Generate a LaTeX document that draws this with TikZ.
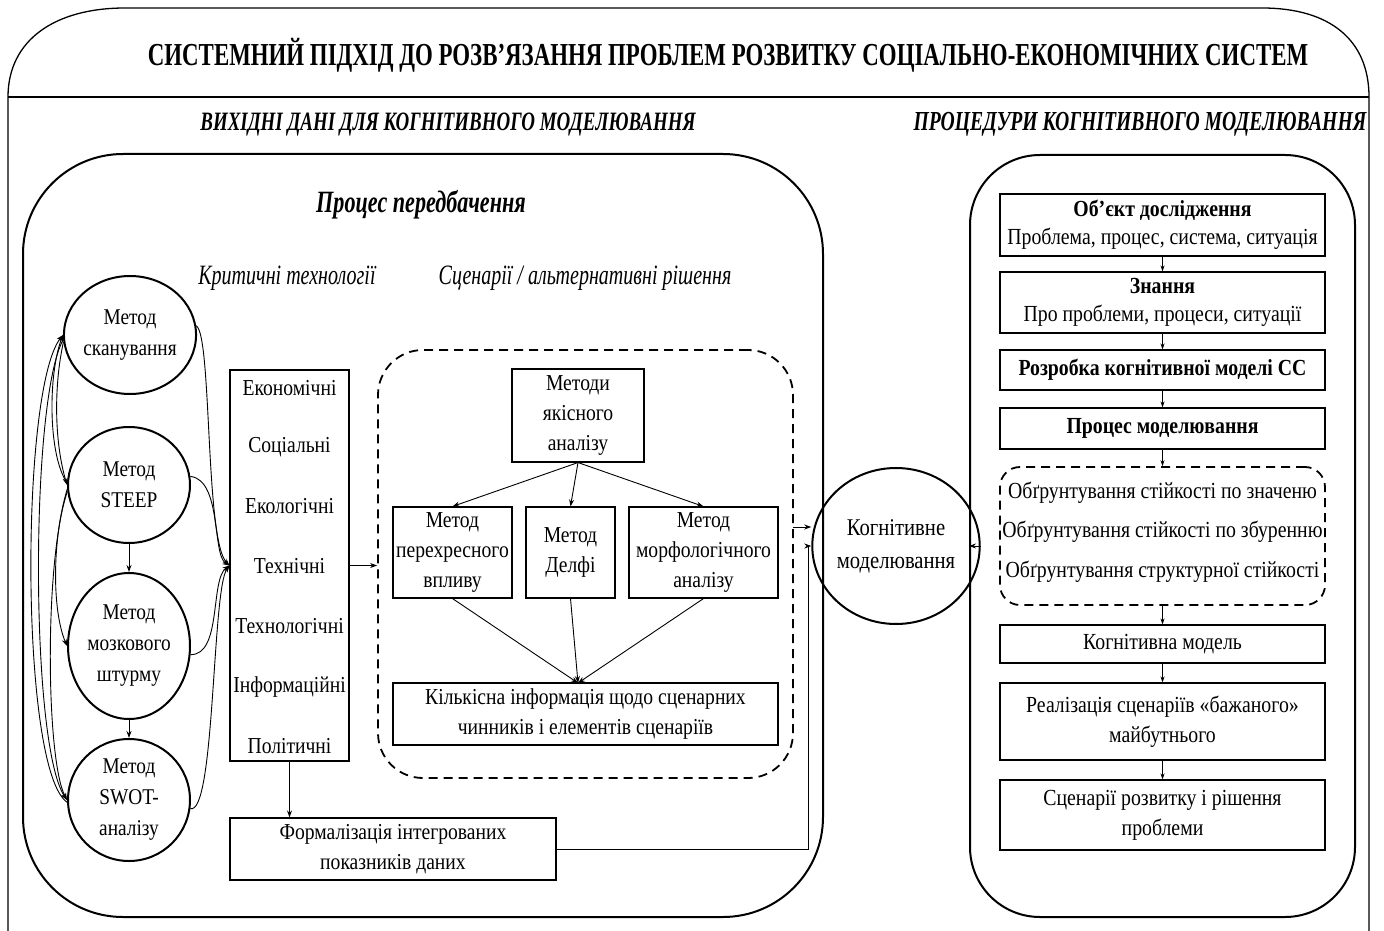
\documentclass[tikz,border=0pt]{standalone}
\usepackage{fontspec}
\setmainfont{Liberation Serif}[FakeStretch=0.86]
\newfontfamily\titlef{Liberation Serif}[FakeStretch=0.715]
\usetikzlibrary{arrows.meta,shapes.geometric}
\newcommand\fsL{\fontsize{22.8pt}{30pt}\selectfont}
\newcommand\fsC{\fontsize{22.5pt}{31pt}\selectfont}
\newcommand\fsR{\fontsize{23pt}{28pt}\selectfont}
\begin{document}
\begin{tikzpicture}[x=1pt,y=-1pt,
  box/.style={draw, line width=1.1pt, inner sep=0pt, align=center, font=\fsL},
  rbx/.style={draw, line width=1.1pt, inner sep=0pt, align=center, font=\fsR, minimum width=325pt},
  circ/.style={draw, ellipse, line width=2pt, inner sep=0pt, align=center, font=\fsC},
  arr/.style={-{Stealth[length=7pt,width=5pt]}, line width=0.9pt},
  sarr/.style={-{Stealth[length=6pt,width=4pt]}, line width=0.8pt},
  lbl/.style={inner sep=0pt, font=\fsL},
  rlbl/.style={inner sep=0pt, font=\fsR},
  panel/.style={draw, line width=2pt, inner sep=0pt},
  head/.style={inner sep=0pt, anchor=base, font={\titlef\bfseries\itshape\fontsize{26.5pt}{30pt}\selectfont}},
  ihead/.style={inner sep=0pt, font={\titlef\itshape\fontsize{28pt}{32pt}\selectfont}},
]
\useasboundingbox (0,0) rectangle (1384,931);
% outer frame
\draw[line width=1.3pt] (8,931) -- (8,97) .. controls (8,40) and (55,8) .. (125,8) -- (1262,8) .. controls (1330,8) and (1369,40) .. (1369,97) -- (1369,931);
\draw[line width=1.1pt] (8,97) -- (1369,97);
\node[inner sep=0pt, font={\titlef\bfseries\fontsize{32pt}{36pt}\selectfont}] (title) at (728,55) {СИСТЕМНИЙ ПІДХІД ДО РОЗВ’ЯЗАННЯ ПРОБЛЕМ РОЗВИТКУ СОЦІАЛЬНО-ЕКОНОМІЧНИХ СИСТЕМ};
\node[head] (sub1) at (448,131) {ВИХІДНІ ДАНІ ДЛЯ КОГНІТИВНОГО МОДЕЛЮВАННЯ};
\node[head, font={\titlef\bfseries\itshape\fontsize{27.5pt}{30pt}\selectfont}] (sub2) at (1140,131) {ПРОЦЕДУРИ КОГНІТИВНОГО МОДЕЛЮВАННЯ};

% panels
\node[panel, rounded corners=100pt, minimum width=800pt, minimum height=763pt] (lbox) at (423,535.5) {};
\node[panel, rounded corners=70pt, minimum width=385pt, minimum height=762pt] (rbox) at (1162.5,536) {};

\node[inner sep=0pt, font={\titlef\bfseries\itshape\fontsize{31pt}{34pt}\selectfont}] (proc) at (421,205) {Процес передбачення};
\node[ihead] (crit) at (287,278) {Критичні технології};
\node[ihead] (scn) at (585,278) {Сценарії / альтернативні рішення};

% circles
\node[circ, minimum width=122pt, minimum height=118pt] (c1) at (130,335) {Метод\\сканування};
\node[circ, minimum width=122pt, minimum height=116pt] (c2) at (129,485) {Метод\\STEEP};
\node[circ, minimum width=122pt, minimum height=146pt] (c3) at (129,646) {Метод\\мозкового\\штурму};
\node[circ, minimum width=122pt, minimum height=122pt] (c4) at (129,800) {Метод\\SWOT-\\аналізу};
\draw[arr] (c2) -- (c3);
\draw[arr] (c3) -- (c4);

% left bundle
\draw[arr] (c4.182) .. controls (20,770) and (20,390) .. (c1.west);
\draw[arr] (c1.184) .. controls (30,400) and (30,745) .. (c4.west);
\draw[arr] (c2.178) .. controls (48,455) and (48,375) .. (c1.west);
\draw[arr] (c1.186) .. controls (54,385) and (54,440) .. (c2.west);
\draw[arr] (c2.184) .. controls (52,540) and (52,610) .. (c3.west);
\draw[arr] (c2.186) .. controls (44,560) and (46,760) .. (c4.west);

% critical technologies box
\node[box, minimum width=119pt, minimum height=391pt] (tech) at (289.5,565.5) {};
\node[lbl] (t1) at (289.5,388) {Економічні};
\node[lbl] (t2) at (289.5,447) {Соціальні};
\node[lbl] (t3) at (289.5,506) {Екологічні};
\node[lbl] (t4) at (289.5,566) {Технічні};
\node[lbl] (t5) at (289.5,626) {Технологічні};
\node[lbl] (t6) at (289.5,687) {Інформаційні};
\node[lbl] (t7) at (289.5,746) {Політичні};

% right curves into tech box
\draw[arr] (c1.8) .. controls (212,335) and (205,540) .. (tech.west);
\draw[arr] (c2.8) .. controls (222,480) and (212,555) .. (tech.west);
\draw[arr] (c3.352) .. controls (222,655) and (210,580) .. (tech.west);
\draw[arr] (c4.352) .. controls (215,815) and (212,590) .. (tech.west);

% scenario dashed box
\node[draw, dashed, dash pattern=on 9pt off 6pt, line width=1.8pt, rounded corners=45pt, minimum width=415pt, minimum height=428pt, inner sep=0pt] (scen) at (585.5,564) {};
\draw[arr] (tech.east) -- (tech.east -| scen.west);

\node[box, minimum width=132pt, minimum height=93pt] (m0) at (578,415.5) {Методи\\якісного\\аналізу};
\node[box, minimum width=119pt, minimum height=91pt] (m1) at (452.5,552.5) {Метод\\перехресного\\впливу};
\node[box, minimum width=89pt, minimum height=91pt] (m2) at (570.5,552.5) {Метод\\Делфі};
\node[box, minimum width=149pt, minimum height=91pt] (m3) at (703.5,552.5) {Метод\\морфологічного\\аналізу};
\node[box, minimum width=385pt, minimum height=62pt] (kil) at (585.5,714) {Кількісна інформація щодо сценарних\\чинників і елементів сценаріїв};
\coordinate (kt) at (578,683);
\draw[arr] (m0.south) -- (m1.north);
\draw[arr] (m0.south) -- (m2.north);
\draw[arr] (m0.south) -- (m3.north);
\draw[arr] (m1.south) -- (kt);
\draw[arr] (m2.south) -- (kt);
\draw[arr] (m3.south) -- (kt);

% formalisation
\node[box, minimum width=326pt, minimum height=62pt] (form) at (393,849) {Формалізація інтегрованих\\показників даних};
\draw[arr] (tech.south) -- (tech.south |- form.north);

% cognitive modelling
\node[circ, minimum width=118pt, minimum height=156pt, font={\fontsize{24pt}{33pt}\selectfont}] (cog) at (896,546) {Когнітивне\\моделювання};
\coordinate (a1) at (793,527);
\draw[arr] (a1) -- (a1 -| cog.west);
\coordinate (k) at (808,546);
\draw[arr] (form.east) -- (form.east -| k) -- (k) -- (cog.west);
\draw[arr] (cog.east) -- (cog.east -| rbox.west);

% right column
\node[rbx, minimum height=62pt] (rA) at (1162.5,225) {\textbf{Об’єкт дослідження}\\Проблема, процес, система, ситуація};
\node[rbx, minimum height=61pt] (rB) at (1162.5,302.5) {\textbf{Знання}\\Про проблеми, процеси, ситуації};
\node[rbx, minimum height=40pt] (rC) at (1162.5,370) {\textbf{Розробка когнітивної моделі СС}};
\node[rbx, minimum height=41pt] (rD) at (1162.5,428.5) {\textbf{Процес моделювання}};
\node[draw, dashed, dash pattern=on 9pt off 6pt, line width=1.8pt, rounded corners=20pt, minimum width=325pt, minimum height=138pt, inner sep=0pt] (rS) at (1162.5,536) {};
\node[rlbl] (s1) at (1162.5,493) {Обґрунтування стійкості по значеню};
\node[rlbl] (s2) at (1162.5,532) {Обґрунтування стійкості по збуренню};
\node[rlbl] (s3) at (1162.5,572) {Обґрунтування структурної стійкості};
\node[rbx, minimum height=38pt] (rE) at (1162.5,644) {Когнітивна модель};
\node[rbx, minimum height=77pt, font={\fontsize{23pt}{30pt}\selectfont}] (rF) at (1162.5,721.5) {Реалізація сценаріїв «бажаного»\\майбутнього};
\node[rbx, minimum height=70pt, font={\fontsize{23pt}{30pt}\selectfont}] (rG) at (1162.5,815) {Сценарії розвитку і рішення\\проблеми};
\draw[sarr] (rA) -- (rB);
\draw[sarr] (rB) -- (rC);
\draw[sarr] (rC) -- (rD);
\draw[sarr] (rD) -- (rS);
\draw[sarr] (rS) -- (rE);
\draw[sarr] (rE) -- (rF);
\draw[sarr] (rF) -- (rG);
\end{tikzpicture}
\end{document}
